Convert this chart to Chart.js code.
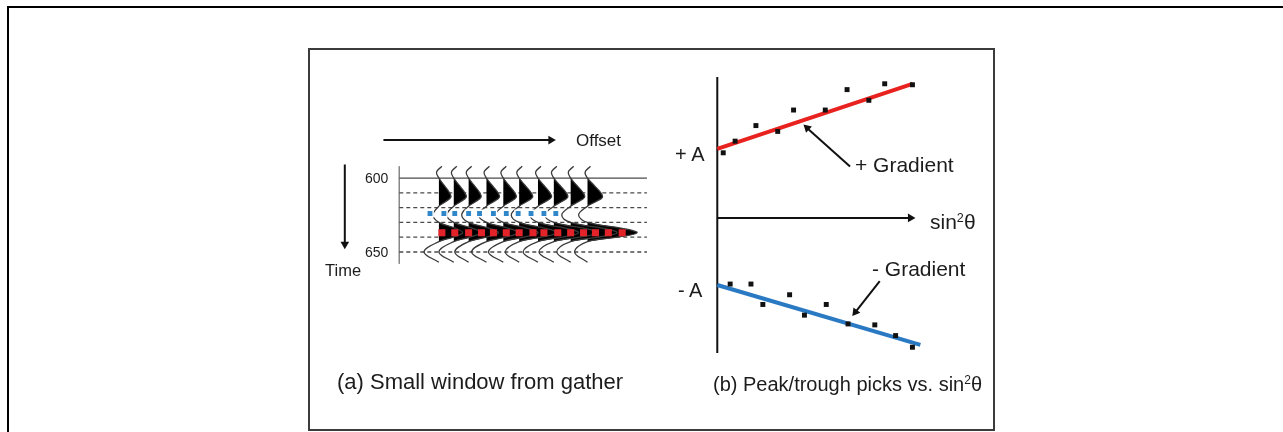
<!DOCTYPE html>
<html>
<head>
<meta charset="utf-8">
<title>AVO picks</title>
<script src="https://cdn.jsdelivr.net/npm/chart.js@4/dist/chart.umd.min.js"></script>
<style>
  html, body { margin: 0; padding: 0; background: #fff; overflow: hidden; }
  #page { position: relative; width: 1283px; height: 432px; overflow: hidden;
          font-family: "Liberation Sans", Arial, sans-serif; color: #1c1c1c; }
  #outer { position: absolute; left: 7px; top: 6px; width: 1400px; height: 500px;
           border: 2px solid #000; box-sizing: border-box; }
  #inner { position: absolute; left: 308px; top: 48px; width: 687px; height: 383px;
           border: 2px solid #3c3c3c; box-sizing: border-box; }
  #fig { position: absolute; left: 0; top: 0; }
  .lbl { position: absolute; line-height: 1; white-space: nowrap; }
  .sup { font-size: 0.6em; position: relative; top: -0.55em; }
</style>
</head>
<body>
<div id="page">
  <div id="outer"></div>
  <div id="inner"></div>
  <canvas id="fig" width="1283" height="432"></canvas>

  <div class="lbl" style="left:576px; top:132px; font-size:17px;">Offset</div>
  <div class="lbl" style="left:325px; top:262px; font-size:16.5px;">Time</div>
  <div class="lbl" style="left:337px; top:371px; font-size:22px;">(a) Small window from gather</div>

  <div class="lbl" style="left:675px; top:144px; font-size:20px;">+ A</div>
  <div class="lbl" style="left:678px; top:280px; font-size:20px;">- A</div>
  <div class="lbl" style="left:855px; top:154px; font-size:21px;">+ Gradient</div>
  <div class="lbl" style="left:872px; top:258px; font-size:21px;">- Gradient</div>
  <div class="lbl" style="left:930px; top:211px; font-size:21px;">sin<span class="sup">2</span>θ</div>
  <div class="lbl" style="left:713px; top:374px; font-size:20px;">(b) Peak/trough picks vs. sin<span class="sup">2</span>θ</div>
</div>

<script>
// ---- (a) gather window: offset in m, time in ms ----
const TIME_TICKS = [600, 650];
const GRID_TIMES = [600, 610, 620, 630, 640, 650];      // first line solid, the rest dashed
const GRID_SPAN = [20, 2520];                            // offset extent of the time lines
const TICK_AXIS = [592, 658];                            // short vertical axis at the left

const TRACE_OFFSETS = [420, 570, 720, 900, 1070, 1230, 1420, 1580, 1750, 1920];
const HOOK_AMP   = [30, 30, 30, 30, 30, 30, 30, 30, 30, 30];
const TOP_AMP    = [120, 125, 125, 130, 130, 135, 135, 140, 140, 150];
const TROUGH_AMP = [-60, -70, -70, -80, -80, -80, -80, -90, -90, -90];
const PEAK_AMP   = [240, 270, 300, 320, 350, 380, 410, 440, 470, 500];
const LOW_AMP    = [-150, -150, -140, -150, -150, -140, -150, -150, -140, -130];

// wavelet key samples: time, which lobe sets the amplitude, weight
const WAVELET_T    = [592, 596, 600, 605, 610, 613, 616, 619, 625, 630, 634, 637, 640, 643, 650, 657];
const WAVELET_LOBE = ['hook', 'hook', 'top', 'top', 'top', 'top', 'top', 'top', 'trough',
                      'peak', 'peak', 'peak', 'peak', 'peak', 'low', 'low'];
const WAVELET_W    = [1, -0.8, 0, 0.45, 0.9, 1, 0.55, 0, 1, 0, 0.7, 1, 0.6, 0, 1, 0];
const FILLED_LOBES = ['top', 'peak'];

const TROUGH_PICK_OFFSETS = [330, 470, 580, 720, 830, 970, 1100, 1220, 1350, 1480, 1600];
const TROUGH_PICK_TIME = 624;
const PEAK_PICK_OFFSETS = [450, 580, 720, 850, 970, 1100, 1230, 1370, 1480, 1620,
                           1750, 1880, 2000, 2130, 2270];
const PEAK_PICK_TIME = 637;

// ---- (b) amplitude vs sin^2(theta) ----
const PEAK_X   = [0.03, 0.09, 0.195, 0.305, 0.385, 0.545, 0.655, 0.765, 0.845, 0.985];
const PEAK_Y   = [6.7, 7.9, 9.5, 8.9, 11.1, 11.1, 13.2, 12.1, 13.8, 13.7];
const TROUGH_X = [0.065, 0.17, 0.23, 0.365, 0.44, 0.55, 0.66, 0.795, 0.9, 0.985];
const TROUGH_Y = [-6.8, -6.8, -8.9, -7.9, -10.0, -8.9, -10.9, -11.0, -12.1, -13.3];
const FIT_A    = [7.1, -6.9];     // intercepts
const FIT_G    = [6.8, -6.0];     // gradients
const FIT_END  = [0.985, 1.025];
const FIT_COLORS = ['#e8231f', '#2a79c3'];

function line(points, color, width, xId, yId, extra) {
  return Object.assign({
    data: points, showLine: true, borderColor: color, borderWidth: width,
    pointRadius: 0, fill: false, tension: 0, xAxisID: xId, yAxisID: yId
  }, extra || {});
}

// arrow = shaft + triangle head, head given as its centre and rotation
function arrow(from, to, head, rot, xId, yId, order) {
  return [
    line([from, to], '#111', 2, xId, yId, { order: order }),
    {
      data: [head], pointStyle: 'triangle', pointRadius: 5, rotation: rot,
      backgroundColor: '#111', borderColor: '#111', borderWidth: 0,
      xAxisID: xId, yAxisID: yId, order: order
    }
  ];
}

const datasets = [];

// time lines
GRID_TIMES.forEach((t, i) => {
  datasets.push(line([{ x: GRID_SPAN[0], y: t }, { x: GRID_SPAN[1], y: t }],
    '#4a4a4a', i === 0 ? 1.2 : 1.3, 'x', 'y',
    { borderDash: i === 0 ? [] : [4, 3], order: 60 }));
});
datasets.push(line([{ x: GRID_SPAN[0], y: TICK_AXIS[0] }, { x: GRID_SPAN[0], y: TICK_AXIS[1] }],
  '#888', 1, 'x', 'y', { order: 60 }));

// wiggle traces with filled positive lobes
TRACE_OFFSETS.forEach((x0, i) => {
  const amp = { hook: HOOK_AMP[i], top: TOP_AMP[i], trough: TROUGH_AMP[i],
                peak: PEAK_AMP[i], low: LOW_AMP[i] };
  const pts = WAVELET_T.map((t, k) => ({ x: x0 + WAVELET_W[k] * amp[WAVELET_LOBE[k]], y: t }));
  FILLED_LOBES.forEach(lobe => {
    const lobePts = pts.filter((p, k) => WAVELET_LOBE[k] === lobe);
    datasets.push(line(lobePts, 'rgba(0,0,0,0)', 0, 'x', 'y',
      { fill: 'shape', backgroundColor: '#000', tension: 0.4, order: 40 }));
  });
  datasets.push(line(pts, '#3a3a3a', 1.3, 'x', 'y', { tension: 0.4, order: 30 }));
});

// trough and peak picks
datasets.push({
  data: TROUGH_PICK_OFFSETS.map(x => ({ x: x, y: TROUGH_PICK_TIME })),
  pointStyle: 'rect', pointRadius: 4.5, backgroundColor: '#2f86c8',
  borderColor: '#fff', borderWidth: 1.5, xAxisID: 'x', yAxisID: 'y', order: 2
});
datasets.push({
  data: PEAK_PICK_OFFSETS.map(x => ({ x: x, y: PEAK_PICK_TIME })),
  pointStyle: 'rect', pointRadius: 5, backgroundColor: '#e3232a',
  borderWidth: 0, xAxisID: 'x', yAxisID: 'y', order: 2
});

// offset and time arrows
datasets.push(...arrow({ x: -140, y: 574.3 }, { x: 1560, y: 574.3 }, { x: 1550, y: 574.3 }, 90, 'x', 'y', 5));
datasets.push(...arrow({ x: -530, y: 590.8 }, { x: -530, y: 644 }, { x: -530, y: 644.7 }, 180, 'x', 'y', 5));

// (b) axes
datasets.push(line([{ x: 0, y: 14.5 }, { x: 0, y: -13.9 }], '#111', 2, 'xb', 'yb', { order: 10 }));
datasets.push(...arrow({ x: 0, y: 0 }, { x: 0.98, y: 0 }, { x: 0.975, y: 0 }, 90, 'xb', 'yb', 10));

// (b) fitted gradient lines
FIT_A.forEach((a, i) => {
  datasets.push(line([{ x: 0, y: a }, { x: FIT_END[i], y: a + FIT_G[i] * FIT_END[i] }],
    FIT_COLORS[i], 4, 'xb', 'yb', { order: 8 }));
});

// (b) picks
[[PEAK_X, PEAK_Y], [TROUGH_X, TROUGH_Y]].forEach(([xs, ys]) => {
  datasets.push({
    data: xs.map((x, k) => ({ x: x, y: ys[k] })),
    pointStyle: 'rect', pointRadius: 3.5, backgroundColor: '#111', borderWidth: 0,
    xAxisID: 'xb', yAxisID: 'yb', order: 1
  });
});

// (b) gradient call-outs
datasets.push(...arrow({ x: 0.67, y: 5.3 }, { x: 0.45, y: 9.3 }, { x: 0.4535, y: 9.26 }, -47.6, 'xb', 'yb', 3));
datasets.push(...arrow({ x: 0.82, y: -6.5 }, { x: 0.70, y: -9.6 }, { x: 0.697, y: -9.68 }, 217.7, 'xb', 'yb', 3));

const hidden = { type: 'linear', display: false };
const chart = new Chart(document.getElementById('fig'), {
  type: 'scatter',
  data: { datasets: datasets },
  options: {
    responsive: false,
    animation: false,
    events: [],
    layout: { padding: 0 },
    plugins: { legend: { display: false }, tooltip: { enabled: false } },
    scales: {
      x:  Object.assign({ axis: 'x', min: -3950, max: 8880 }, hidden),
      y:  Object.assign({ axis: 'y', min: 483.55, max: 767.76, reverse: true }, hidden),
      xb: Object.assign({ axis: 'x', min: -3.59, max: 2.825 }, hidden),
      yb: Object.assign({ axis: 'y', min: -21.4, max: 21.8 }, hidden)
    }
  }
});

// time tick labels placed from the time scale
TIME_TICKS.forEach(t => {
  const d = document.createElement('div');
  d.className = 'lbl';
  d.textContent = t;
  d.style.fontSize = '14px';
  d.style.left = '365px';
  d.style.top = (chart.scales.y.getPixelForValue(t) - 7) + 'px';
  document.getElementById('page').appendChild(d);
});
</script>
</body>
</html>
